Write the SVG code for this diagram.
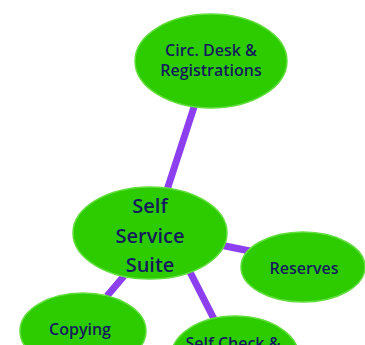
<svg xmlns="http://www.w3.org/2000/svg" width="365" height="345" viewBox="0 0 365 345">
  <style>
    .bubble { fill: #2ccc00; stroke: #62de3e; stroke-width: 1.5; }
    .label { font-family: "Open Sans", Lato, "Liberation Sans", sans-serif; font-weight: 600; fill: #141c5c; text-anchor: middle; }
    .link { stroke: #8d3ff0; stroke-width: 7; stroke-linecap: butt; fill: none; }
  </style>
  <rect width="365" height="345" fill="#ffffff"/>
  <g id="connectors">
    <line class="link" x1="195" y1="104" x2="167" y2="190"/>
    <line class="link" x1="220" y1="245" x2="250" y2="251"/>
    <line class="link" x1="124" y1="276" x2="107" y2="296"/>
    <line class="link" x1="190" y1="272" x2="214" y2="319"/>
  </g>
  <g id="circ-desk">
    <ellipse class="bubble" cx="211" cy="61" rx="76" ry="47"/>
    <text class="label" x="211" y="56" font-size="16">Circ. Desk &amp;</text>
    <text class="label" x="211" y="76" font-size="16">Registrations</text>
  </g>
  <g id="self-service">
    <ellipse class="bubble" cx="150" cy="233" rx="77" ry="46"/>
    <text class="label" x="150" y="213" font-size="20">Self</text>
    <text class="label" x="150" y="243" font-size="20">Service</text>
    <text class="label" x="150" y="272" font-size="20">Suite</text>
  </g>
  <g id="reserves">
    <ellipse class="bubble" cx="303" cy="267" rx="62" ry="35"/>
    <text class="label" x="304" y="274" font-size="16">Reserves</text>
  </g>
  <g id="copying">
    <ellipse class="bubble" cx="83" cy="331" rx="63" ry="38"/>
    <text class="label" x="80" y="335" font-size="16">Copying</text>
  </g>
  <g id="self-check">
    <ellipse class="bubble" cx="235" cy="357" rx="64" ry="41"/>
    <text class="label" x="233" y="349" font-size="16">Self Check &amp;</text>
  </g>
</svg>
